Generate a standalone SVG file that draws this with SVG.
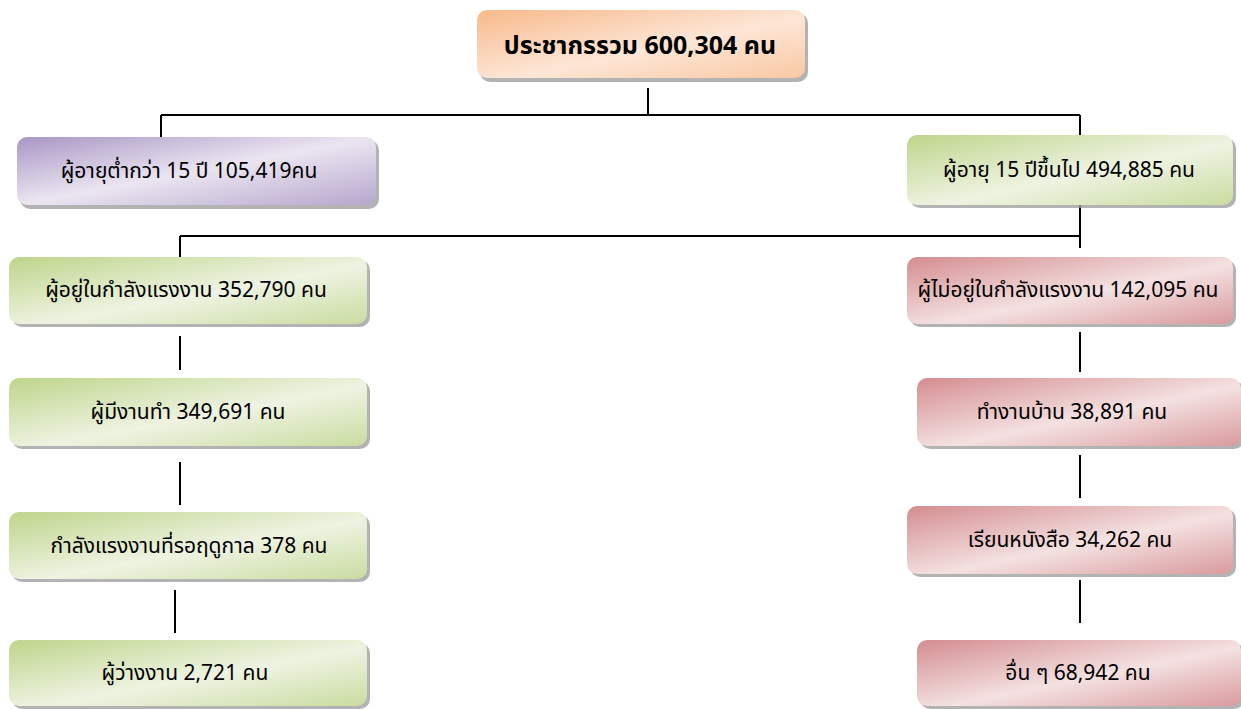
<svg xmlns="http://www.w3.org/2000/svg" width="1241" height="709" viewBox="0 0 1241 709">
<defs>
<linearGradient id="gOrange" x1="0" y1="0" x2="1" y2="1">
<stop offset="0" stop-color="#f7b98a"/><stop offset="0.55" stop-color="#fde6d6"/><stop offset="1" stop-color="#f9c8a2"/>
</linearGradient>
<linearGradient id="gPurple" x1="0" y1="0" x2="1" y2="1">
<stop offset="0" stop-color="#a896c4"/><stop offset="0.5" stop-color="#ebe5f1"/><stop offset="1" stop-color="#b6a6cc"/>
</linearGradient>
<linearGradient id="gGreen" x1="0" y1="0" x2="1" y2="1">
<stop offset="0" stop-color="#bed58a"/><stop offset="0.55" stop-color="#eef3e2"/><stop offset="1" stop-color="#c9dca0"/>
</linearGradient>
<linearGradient id="gRed" x1="0" y1="0" x2="1" y2="1">
<stop offset="0" stop-color="#d48c90"/><stop offset="0.55" stop-color="#f4e1e1"/><stop offset="1" stop-color="#d99a9d"/>
</linearGradient>
</defs>
<style>
.sh{fill:#9a9a9a;opacity:0.75}
.t{font-family:"Noto Sans Thai","Tahoma","Noto Sans",sans-serif;font-size:21px;fill:#000;text-anchor:middle;dominant-baseline:central}
.tb{font-size:25px;font-weight:bold}
.c{stroke:#000;stroke-width:2;fill:none}
</style>
<rect width="1241" height="709" fill="#fff"/>
<g id="connectors">
<path class="c" d="M648 88V115M161 115H1080M161 115V137M1080 115V137"/>
<path class="c" d="M1080 205V248M180 236H1080M180 236V258"/>
<path class="c" d="M180 336V370M180 462V505M175 590V633"/>
<path class="c" d="M1080 332V372M1080 455V498M1080 580V623"/>
</g>
<g id="n-total">
<rect class="sh" x="480" y="13" width="328" height="69" rx="10"/>
<rect x="477" y="10" width="328" height="68" rx="10" fill="url(#gOrange)"/>
<text class="t tb" x="640" y="46">ประชากรรวม 600,304 คน</text>
</g>
<g id="n-under15">
<rect class="sh" x="20" y="140" width="359" height="69" rx="10"/>
<rect x="17" y="137" width="359" height="68" rx="10" fill="url(#gPurple)"/>
<text class="t" x="189" y="171">ผู้อายุต่ำกว่า 15 ปี 105,419คน</text>
</g>
<g id="n-over15">
<rect class="sh" x="910" y="138" width="326" height="70" rx="10"/>
<rect x="907" y="135" width="326" height="70" rx="10" fill="url(#gGreen)"/>
<text class="t" x="1069" y="170">ผู้อายุ 15 ปีขึ้นไป 494,885 คน</text>
</g>
<g id="n-inlabor">
<rect class="sh" x="12" y="260" width="358" height="67" rx="10"/>
<rect x="9" y="257" width="358" height="67" rx="10" fill="url(#gGreen)"/>
<text class="t" x="186" y="290">ผู้อยู่ในกำลังแรงงาน 352,790 คน</text>
</g>
<g id="n-notlabor">
<rect class="sh" x="910" y="260" width="326" height="67" rx="10"/>
<rect x="907" y="257" width="326" height="67" rx="10" fill="url(#gRed)"/>
<text class="t" x="1068" y="290">ผู้ไม่อยู่ในกำลังแรงงาน 142,095 คน</text>
</g>
<g id="n-employed">
<rect class="sh" x="12" y="381" width="358" height="68" rx="10"/>
<rect x="9" y="378" width="358" height="68" rx="10" fill="url(#gGreen)"/>
<text class="t" x="188" y="412">ผู้มีงานทำ 349,691 คน</text>
</g>
<g id="n-housework">
<rect class="sh" x="920" y="381" width="324" height="68" rx="10"/>
<rect x="917" y="378" width="324" height="68" rx="10" fill="url(#gRed)"/>
<text class="t" x="1072" y="412">ทำงานบ้าน 38,891 คน</text>
</g>
<g id="n-seasonal">
<rect class="sh" x="12" y="515" width="358" height="67" rx="10"/>
<rect x="9" y="512" width="358" height="67" rx="10" fill="url(#gGreen)"/>
<text class="t" x="189" y="546">กำลังแรงงานที่รอฤดูกาล 378 คน</text>
</g>
<g id="n-study">
<rect class="sh" x="910" y="509" width="326" height="68" rx="10"/>
<rect x="907" y="506" width="326" height="68" rx="10" fill="url(#gRed)"/>
<text class="t" x="1070" y="540">เรียนหนังสือ 34,262 คน</text>
</g>
<g id="n-unemployed">
<rect class="sh" x="12" y="643" width="358" height="66" rx="10"/>
<rect x="9" y="640" width="358" height="66" rx="10" fill="url(#gGreen)"/>
<text class="t" x="185" y="673">ผู้ว่างงาน 2,721 คน</text>
</g>
<g id="n-other">
<rect class="sh" x="920" y="643" width="324" height="66" rx="10"/>
<rect x="917" y="640" width="324" height="66" rx="10" fill="url(#gRed)"/>
<text class="t" x="1078" y="673">อื่น ๆ 68,942 คน</text>
</g>
</svg>
